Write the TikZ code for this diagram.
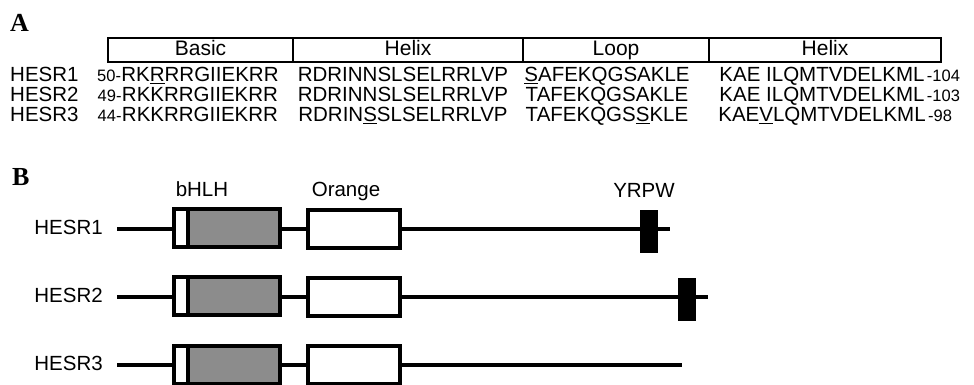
\documentclass[tikz,border=0pt]{standalone}
\usepackage{fontspec}
\setmainfont{Liberation Sans}
\newfontfamily\panelfont{Liberation Serif}
\usetikzlibrary{positioning}

\tikzset{
  panel/.style={anchor=base west, inner sep=0pt, font=\panelfont\bfseries\fontsize{26}{30}\selectfont},
  seqname/.style={anchor=base west, inner sep=0pt, font=\fontsize{20.5}{24}\selectfont},
  seq/.style={anchor=base, inner sep=0pt, font=\fontsize{20.5}{24}\selectfont},
  num/.style={inner sep=0pt, font=\fontsize{16.5}{18}\selectfont},
  hdr/.style={draw, line width=2.5pt, outer sep=0pt, inner sep=0pt, minimum height=24pt,
    text height=15pt, text depth=4pt, font=\fontsize{21}{24}\selectfont},
  backbone/.style={line width=4pt},
  bhlh/.style={draw, line width=4pt, fill=black!45, inner sep=0pt, minimum width=106pt, minimum height=38pt,
    path picture={
      \fill[white] (path picture bounding box.south west) rectangle ([xshift=13.5pt]path picture bounding box.north west);
      \draw[line width=4pt] ([xshift=13.5pt]path picture bounding box.south west) -- ([xshift=13.5pt]path picture bounding box.north west);
    }},
  orange/.style={draw, line width=4pt, fill=white, inner sep=0pt, minimum width=92pt, minimum height=38pt},
  yrpw/.style={fill=black, inner sep=0pt, minimum width=18pt, minimum height=43pt},
  domlabel/.style={anchor=base, inner sep=0pt, font=\fontsize{20.5}{24}\selectfont}
}

\begin{document}
\begin{tikzpicture}[x=1pt, y=-1pt]
  \useasboundingbox (0,0) rectangle (974,385);

  % panel A
  \node[panel] (A) at (10,32) {A};
  % header boxes
  \node[hdr, minimum width=185pt] (basic) at (200.5,50) {Basic};
  \node[hdr, minimum width=230pt, right=0pt of basic] (helixa) {Helix};
  \node[hdr, minimum width=186pt, right=0pt of helixa] (loop) {Loop};
  \node[hdr, minimum width=232pt, right=0pt of loop] (helixb) {Helix};

  % sequences
  \node[seqname] (n1) at (10,82) {HESR1};
  \node[seq] (b1) at (200,82) {RK\underline{R}RRGIIEKRR};
  \node[num, anchor=base east] (p1) at (b1.base west) {50-};
  \node[seq] (h1) at (403,82) {RDRINNSLSELRRLVP};
  \node[seq] (l1) at (607,82) {\underline{S}AFEKQGSAKLE};
  \node[seq] (k1) at (822,82) {KAE ILQMTVDELKML};
  \node[num, anchor=base west, xshift=2pt] (e1) at (k1.base east) {-104};

  \node[seqname] (n2) at (10,102) {HESR2};
  \node[seq] (b2) at (200,102) {RKKRRGIIEKRR};
  \node[num, anchor=base east] (p2) at (b2.base west) {49-};
  \node[seq] (h2) at (403,102) {RDRINNSLSELRRLVP};
  \node[seq] (l2) at (607,102) {TAFEKQGSAKLE};
  \node[seq] (k2) at (822,102) {KAE ILQMTVDELKML};
  \node[num, anchor=base west, xshift=2pt] (e2) at (k2.base east) {-103};

  \node[seqname] (n3) at (10,122) {HESR3};
  \node[seq] (b3) at (200,122) {RKKRRGIIEKRR};
  \node[num, anchor=base east] (p3) at (b3.base west) {44-};
  \node[seq] (h3) at (403,122) {RDRIN\underline{S}SLSELRRLVP};
  \node[seq] (l3) at (607,122) {TAFEKQGS\underline{S}KLE};
  \node[seq] (k3) at (822,122) {KAE\underline{V}LQMTVDELKML};
  \node[num, anchor=base west, xshift=2pt] (e3) at (k3.base east) {-98};

  % panel B
  \node[panel] (B) at (12,185) {B};
  \node[domlabel] (lbhlh) at (202,196) {bHLH};
  \node[domlabel] (lorange) at (346,196) {Orange};
  \node[domlabel] (lyrpw) at (644,197) {YRPW};

  % HESR1
  \node[seqname, anchor=east] (r1) at (103,227) {HESR1};
  \coordinate (s1) at (117,229);
  \coordinate (t1) at (670,229);
  \draw[backbone] (s1) -- (t1);
  \node[bhlh] (bh1) at (227,228) {};
  \node[orange] (or1) at (354,229) {};
  \node[yrpw] (yr1) at (649,231) {};

  % HESR2
  \node[seqname, anchor=east] (r2) at (103,295) {HESR2};
  \coordinate (s2) at (117,297);
  \coordinate (t2) at (708,297);
  \draw[backbone] (s2) -- (t2);
  \node[bhlh] (bh2) at (227,296) {};
  \node[orange] (or2) at (354,297) {};
  \node[yrpw] (yr2) at (686.5,299) {};

  % HESR3
  \node[seqname, anchor=east] (r3) at (103,363) {HESR3};
  \coordinate (s3) at (117,365);
  \coordinate (t3) at (682,365);
  \draw[backbone] (s3) -- (t3);
  \node[bhlh] (bh3) at (227,365) {};
  \node[orange] (or3) at (354,365) {};
\end{tikzpicture}
\end{document}
